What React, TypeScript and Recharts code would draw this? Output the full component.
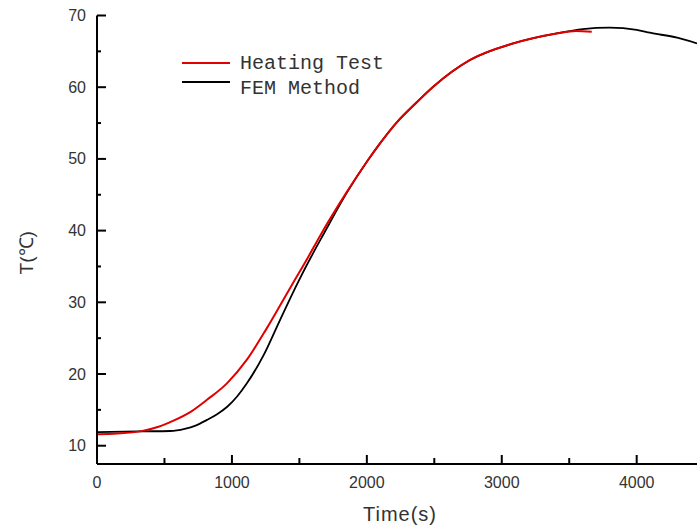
import React from "react";
import { LineChart, Line, XAxis, YAxis, Legend } from "recharts";

// Heating Test (measured)
const testTime = [0, 150, 321, 450, 567, 700, 815, 963, 1111, 1259, 1407, 1469, 1556, 1654, 1852, 2000, 2099, 2222, 2370, 2494, 2765, 3084, 3407, 3550, 3667];
const testTemp = [11.6, 11.7, 12.0, 12.6, 13.5, 14.8, 16.4, 18.7, 22.0, 26.4, 31.2, 33.2, 36.0, 39.3, 45.4, 49.6, 52.2, 55.1, 57.9, 60.1, 63.8, 66.1, 67.5, 67.85, 67.75];

// FEM Method (simulated)
const femTime = [0, 300, 543, 650, 730, 815, 890, 963, 1040, 1111, 1234, 1358, 1495, 1600, 1679, 1852, 2000, 2099, 2222, 2370, 2494, 2765, 3084, 3407, 3600, 3800, 4000, 4098, 4300, 4447];
const femTemp = [11.9, 12.0, 12.05, 12.35, 12.8, 13.6, 14.4, 15.4, 16.9, 18.7, 22.6, 27.6, 33.0, 36.8, 39.5, 45.3, 49.6, 52.2, 55.1, 57.9, 60.1, 63.8, 66.1, 67.5, 68.1, 68.3, 68.0, 67.6, 66.9, 66.1];

const xTicks = [0, 500, 1000, 1500, 2000, 2500, 3000, 3500, 4000];
const xLabelTicks = [0, 1000, 2000, 3000, 4000];
const yTicks = [10, 15, 20, 25, 30, 35, 40, 45, 50, 55, 60, 65, 70];
const yLabelTicks = [10, 20, 30, 40, 50, 60, 70];

const seriesNames = ["Heating Test", "FEM Method"];
const seriesColors = ["#e00000", "#000000"];

const testData = testTime.map((t, i) => ({ t, v: testTemp[i] }));
const femData = femTime.map((t, i) => ({ t, v: femTemp[i] }));

const TICK_MARGIN_Y = 11;
const TICK_MARGIN_X = 18;
const LABEL_FONT = "'Liberation Sans', Arial, sans-serif";

const YTick = (props: any) => {
  const { x, y, payload } = props;
  const axisX = x + TICK_MARGIN_Y;
  const major = yLabelTicks.includes(payload.value);
  return (
    <g>
      <line x1={axisX} x2={axisX + (major ? 9 : 4)} y1={y} y2={y} stroke="#000" strokeWidth={2} />
      {major && (
        <text x={x} y={y} dy={5.5} textAnchor="end" fontSize={16} fill="#333" fontFamily={LABEL_FONT}>
          {payload.value}
        </text>
      )}
    </g>
  );
};

const XTick = (props: any) => {
  const { x, y, payload } = props;
  const axisY = y - TICK_MARGIN_X;
  const major = xLabelTicks.includes(payload.value);
  return (
    <g>
      <line x1={x} x2={x} y1={axisY} y2={axisY - (major ? 9 : 6)} stroke="#000" strokeWidth={2} />
      {major && (
        <text x={x} y={y} dy={6} textAnchor="middle" fontSize={16} fill="#333" fontFamily={LABEL_FONT}>
          {payload.value}
        </text>
      )}
    </g>
  );
};

const YLabel = (props: any) => {
  const vb = props.viewBox;
  const cx = vb.x - 11;
  const cy = vb.y + vb.height / 2 + 13;
  return (
    <text x={cx} y={cy} transform={`rotate(-90 ${cx} ${cy})`} textAnchor="middle" dominantBaseline="central" fontSize={19} fill="#333" fontFamily={LABEL_FONT}>
      T(℃)
    </text>
  );
};

const XLabel = (props: any) => {
  const vb = props.viewBox;
  const cx = vb.x + vb.width / 2 + 3;
  return (
    <text x={cx} y={vb.y + 57} textAnchor="middle" fontSize={20} letterSpacing={1} fill="#333" fontFamily={LABEL_FONT}>
      Time(s)
    </text>
  );
};

const LegendContent = (props: any) => {
  const payload = [...(props.payload || [])].sort(
    (a: any, b: any) => seriesNames.indexOf(a.value) - seriesNames.indexOf(b.value)
  );
  return (
    <svg width={240} height={60} style={{ overflow: "visible" }}>
      {payload.map((p: any, i: number) => (
        <g key={i}>
          <line x1={12} x2={60} y1={18 + i * 19} y2={18 + i * 19} stroke={p.color} strokeWidth={2} />
          <text x={70} y={24 + i * 25} fontSize={20} fill="#333" fontFamily="'Liberation Mono', monospace">
            {p.value}
          </text>
        </g>
      ))}
    </svg>
  );
};

export default function App() {
  return (
    <div style={{ position: "absolute", left: 0, top: 0, background: "#fff" }}>
      <LineChart width={697} height={530} margin={{ top: 15.5, right: 0, left: 37, bottom: 26 }}>
        <XAxis
          type="number"
          dataKey="t"
          domain={[0, 4447]}
          allowDataOverflow
          ticks={xTicks}
          interval={0}
          tickSize={0}
          tickMargin={TICK_MARGIN_X}
          tick={<XTick />}
          tickLine={false}
          axisLine={{ stroke: "#000", strokeWidth: 2 }}
          height={40}
          label={<XLabel />}
        />
        <YAxis
          type="number"
          dataKey="v"
          domain={[7.45, 70]}
          allowDataOverflow
          ticks={yTicks}
          interval={0}
          tickSize={0}
          tickMargin={TICK_MARGIN_Y}
          tick={<YTick />}
          tickLine={false}
          axisLine={{ stroke: "#000", strokeWidth: 2 }}
          width={60}
          label={<YLabel />}
        />
        <Legend
          layout="vertical"
          align="center"
          verticalAlign="middle"
          content={<LegendContent />}
          wrapperStyle={{ left: 170, top: 45, width: 240, height: 60 }}
        />
        <Line data={femData} dataKey="v" name={seriesNames[1]} type="monotone" stroke={seriesColors[1]} strokeWidth={1.8} dot={false} isAnimationActive={false} />
        <Line data={testData} dataKey="v" name={seriesNames[0]} type="monotone" stroke={seriesColors[0]} strokeWidth={2} dot={false} isAnimationActive={false} />
      </LineChart>
    </div>
  );
}
